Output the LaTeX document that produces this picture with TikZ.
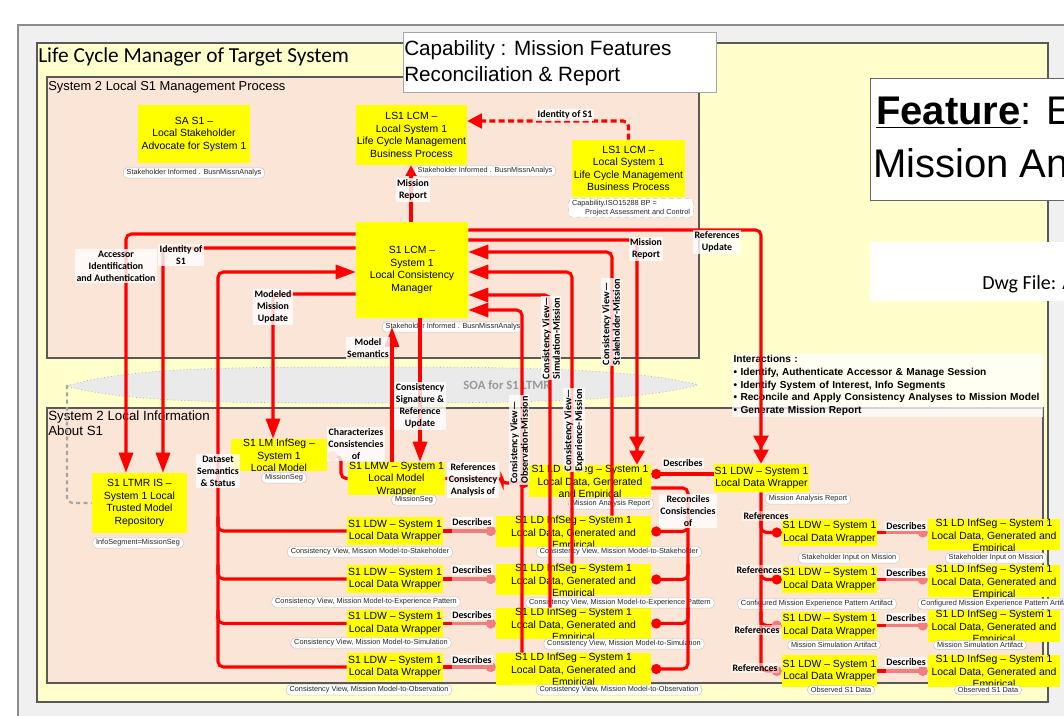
\documentclass[tikz,border=0pt]{standalone}
\usepackage{fontspec}
\setmainfont{Liberation Sans}
\newfontfamily\carlito{Carlito}
\usetikzlibrary{arrows.meta,fit}

\definecolor{panelyellow}{RGB}{255,255,204}
\definecolor{peach}{RGB}{251,229,214}
\definecolor{boxyellow}{RGB}{255,255,0}
\definecolor{lnred}{RGB}{255,0,0}
\definecolor{pinkred}{RGB}{242,125,125}
\definecolor{framegray}{RGB}{240,240,240}
\definecolor{soagray}{RGB}{234,234,234}

\tikzset{
  panel/.style={draw=black!65, line width=0.8pt},
  ybox/.style={fill=boxyellow, draw=none, inner sep=0pt},
  boxtext/.style={font=\fontsize{7.8}{9.4}\selectfont, align=center, inner sep=0pt, text=black},
  tag/.style={fill=white, draw=black!22, line width=0.4pt, rounded corners=3pt,
    inner xsep=2.5pt, inner ysep=1.3pt, font=\fontsize{5.5}{6.6}\selectfont, text=black!85},
  lbl/.style={font=\carlito\bfseries\fontsize{7.4}{9}\selectfont, align=center,
    fill=white, fill opacity=0.8, text opacity=1, inner sep=1pt},
  vlbl/.style={lbl, rotate=90, align=left, font=\carlito\bfseries\fontsize{7.6}{7.9}\selectfont},
  rline/.style={draw=lnred, line width=2.3pt},
  pline/.style={draw=pinkred, line width=2.3pt},
  tipT/.style={-{Triangle[length=15pt,width=10.5pt]}},
  tipS/.style={-{Triangle[length=8pt,width=8pt]}},
  tipTT/.style={-{Triangle[length=10.5pt,width=11pt]Triangle[length=10.5pt,width=11pt]}},
  tipR/.style={-{Circle[length=7.5pt]}},
  tipP/.style={-{Circle[length=7.5pt,color=pinkred]}},
  startR/.style={{Circle[length=7.5pt]}-},
  startP/.style={{Circle[length=7.5pt,color=pinkred]}-},
}

% yellow box with its text centred and clipped to the box
\newcommand\mkbox[4]{%
  \node[ybox, fit={#2 #3}] (#1) {};
  \begin{scope}
    \clip (#1.south west) rectangle (#1.north east);
    \node[boxtext] (#1t) at (#1.center) {#4};
  \end{scope}}
% yellow box whose text hangs from the top edge and runs out at the bottom
\newcommand\mktopbox[4]{%
  \node[ybox, fit={#2 #3}] (#1) {};
  \begin{scope}
    \clip (#1.south west) rectangle (#1.north east);
    \node[boxtext, anchor=north] (#1t) at (#1.north) {#4};
  \end{scope}}

\begin{document}
\begin{tikzpicture}[x=0.75pt,y=-0.75pt]
\useasboundingbox (0,0) rectangle (1064,716);
\fill[white] (0,0) rectangle (1064,716);

% frames and panels
\draw[fill=framegray, draw=black!45, line width=1.2pt] (18,25) rectangle (1090,740);
\draw[panel, fill=panelyellow] (37,43) rectangle (1048,702);
\draw[panel, fill=peach] (47,77) rectangle (699,358);
\draw[panel, fill=peach] (47,408) rectangle (1043,683);

% service bus
\draw[fill=soagray, draw=black!30, dotted, line width=0.6pt]
  (67,386) .. controls (130,366) and (250,367) .. (400,367)
  .. controls (560,367) and (650,372) .. (698,385)
  .. controls (650,398) and (560,403) .. (400,403)
  .. controls (250,403) and (130,404) .. (67,386) -- cycle;
\node[font=\carlito\bfseries\fontsize{9.5}{11}\selectfont, text=black!40] (soa) at (507,385) {SOA for S1 LTMR};

% titles
\node[anchor=base west, font=\carlito\fontsize{16}{18}\selectfont, inner sep=0pt] (title) at (38,63) {Life Cycle Manager of Target System};
\node[anchor=base west, font=\fontsize{9.7}{12}\selectfont, inner sep=0pt] (mgmt) at (48,91) {System 2 Local S1 Management Process};
\node[anchor=north west, align=left, font=\fontsize{10}{11}\selectfont, inner sep=0pt] (info) at (48,411) {System 2 Local Information\\About S1};

\node[fit={(403,32)(716,92)}, inner sep=0pt, fill=white, draw=black!35] (capbox) {};
\node[anchor=north west, align=left, font=\fontsize{15.5}{19.5}\selectfont, inner sep=0pt] (captext) at (404,40) {Capability : Mission Features\\Reconciliation \& Report};

\node[fit={(870,78)(1090,200)}, inner sep=0pt, fill=white, draw=black!60] (featbox) {};
\node[anchor=base west, font=\fontsize{30}{34}\selectfont, inner sep=0pt] (feat1) at (876,125) {\textbf{\underline{Feature}}: E};
\node[anchor=base west, font=\fontsize{30}{34}\selectfont, inner sep=0pt] (feat2) at (873,178) {Mission An};

\node[fit={(870,242)(1090,301)}, inner sep=0pt, fill=white] (dwgbox) {};
\node[anchor=base west, font=\carlito\fontsize{15}{17}\selectfont, inner sep=0pt] (dwg) at (982,290) {Dwg File: A};

\node[anchor=north west, align=left, fill=white, fill opacity=0.75, text opacity=1,
  inner xsep=1pt, inner ysep=1pt, text width=231pt, font=\bfseries\fontsize{7.6}{9.4}\selectfont] (inter) at (732,354)
  {Interactions :\\
   \textbullet{} Identify, Authenticate Accessor \& Manage Session\\
   \textbullet{} Identify System of Interest, Info Segments\\
   \textbullet{} Reconcile and Apply Consistency Analyses to Mission Model\\
   \textbullet{} Generate Mission Report};

% yellow boxes
\mkbox{SA}{(138,105)}{(250,163)}{SA S1 –\\Local Stakeholder\\Advocate for System 1}
\mkbox{LCMa}{(356,105)}{(467,165)}{LS1 LCM –\\Local System 1\\Life Cycle Management\\Business Process}
\mkbox{LCMb}{(572,140)}{(685,197)}{LS1 LCM –\\Local System 1\\Life Cycle Management\\Business Process}
\mkbox{LCM}{(356,222)}{(468,318)}{S1 LCM –\\System 1\\Local Consistency\\Manager}
\mkbox{LTMR}{(92,473)}{(187,533)}{S1 LTMR IS –\\System 1 Local\\Trusted Model\\Repository}
\mktopbox{LMI}{(231,439)}{(327,471)}{S1 LM InfSeg –\\System 1\\Local Model}
\mktopbox{LMW}{(348,462)}{(445,495)}{S1 LMW – System 1\\Local Model\\Wrapper}
\mktopbox{LDI0}{(529,465)}{(651,497)}{S1 LD InfSeg – System 1\\Local Data, Generated\\and Empirical}
\mkbox{LDW0}{(714,464)}{(809,492)}{S1 LDW – System 1\\Local Data Wrapper}

\foreach \i/\ya/\yb in {1/517/545, 2/565/593, 3/610/637, 4/653/681}
  {\mkbox{LDWa\i}{(347,\ya)}{(443,\yb)}{S1 LDW – System 1\\Local Data Wrapper}}
\foreach \i/\ya/\yb in {1/516/547, 2/564/595, 3/608/639, 4/653/685}
  {\mktopbox{LDIa\i}{(496,\ya)}{(651,\yb)}{S1 LD InfSeg – System 1\\Local Data, Generated and\\Empirical}}
\foreach \i/\ya/\yb in {1/519/546, 2/566/593, 3/612/639, 4/655/687}
  {\mkbox{LDWb\i}{(782,\ya)}{(877,\yb)}{S1 LDW – System 1\\Local Data Wrapper}}
\foreach \i/\ya/\yb in {1/519/550, 2/565/597, 3/610/642, 4/655/687}
  {\mktopbox{LDIb\i}{(928,\ya)}{(1060,\yb)}{S1 LD InfSeg – System 1\\Local Data, Generated and\\Empirical}}

% tags under the boxes
\node[tag] (tSA) at (194,173) {Stakeholder Informed . BusnMissnAnalys};
\node[tag] (tLCMa) at (485,171) {Stakeholder Informed . BusnMissnAnalys};
\node[tag, dashed, align=left] (tLCMb) at (631,208) {Capability.ISO15288 BP =\\\hspace*{1.8em}Project Assessment and Control};
\node[tag] (tLCM) at (453,327) {Stakeholder Informed . BusnMissnAnalys};
\node[tag] (tLTMR) at (138,543) {InfoSegment=MissionSeg};
\node[tag] (tLMI) at (284,478) {MissionSeg};
\node[tag] (tLMW) at (414,500) {MissionSeg};
\node[tag] (tLDI0) at (611,504) {Mission Analysis Report};
\node[tag] (tLDW0) at (808,499) {Mission Analysis Report};

\node[tag] (tLDWa1) at (370,552) {Consistency View, Mission Model-to-Stakeholder};
\node[tag] (tLDWa2) at (366,602) {Consistency View, Mission Model-to-Experience Pattern};
\node[tag] (tLDWa3) at (371,643) {Consistency View, Mission Model-to-Simulation};
\node[tag] (tLDWa4) at (369,690) {Consistency View, Mission Model-to-Observation};
\node[tag] (tLDIa1) at (619,552) {Consistency View, Mission Model-to-Stakeholder};
\node[tag] (tLDIa2) at (620,603) {Consistency View, Mission Model-to-Experience Pattern};
\node[tag] (tLDIa3) at (624,644) {Consistency View, Mission Model-to-Simulation};
\node[tag] (tLDIa4) at (619,690) {Consistency View, Mission Model-to-Observation};

\node[tag] (tLDWb1) at (849,558) {Stakeholder Input on Mission};
\node[tag] (tLDWb2) at (817,604) {Configured Mission Experience Pattern Artifact};
\node[tag] (tLDWb3) at (834,645) {Mission Simulation Artifact};
\node[tag] (tLDWb4) at (841,690) {Observed S1 Data};
\node[tag] (tLDIb1) at (996,558) {Stakeholder Input on Mission};
\node[tag] (tLDIb2) at (997,604) {Configured Mission Experience Pattern Artifact};
\node[tag] (tLDIb3) at (980,645) {Mission Simulation Artifact};
\node[tag] (tLDIb4) at (988,690) {Observed S1 Data};

% repository link to the service bus
\draw[draw=black!35, line width=1.6pt, dash pattern=on 3pt off 2.5pt, rounded corners=4pt] (soa.center -| 67,0) |- (LTMR.west);

% connectors of the consistency manager
\draw[rline, tipS] (411,0 |- LCM.north) -- (411,0 |- LCMa.south);
\draw[rline, dash pattern=on 4.5pt off 2.5pt, rounded corners=4pt, -{Triangle[length=11pt,width=11pt]}] (LCMb.north) |- (LCMa.east |- 0,121);

\draw[rline, rounded corners=4pt, tipT] (LCM.west |- 0,234) -| (126,0 |- LTMR.north);
\draw[rline, rounded corners=4pt, tipT] (LCM.west |- 0,248) -| (163,0 |- LTMR.north);
\draw[rline, rounded corners=4pt, tipT] (LDWa4.west) -| (218,272) -- (LCM.west |- 0,272);
\foreach \i in {1,2,3}
  \draw[rline, rounded corners=4pt] (LDWa\i.west) -| (218,0 |- LDWa\i.north);
\draw[rline, rounded corners=4pt, tipT] (LCM.west |- 0,294) -| (273,0 |- LMI.north);

\draw[rline, tipT] (392,0 |- LMW.north) -- (392,0 |- tLCM.center);
\draw[rline, tipT] (420,0 |- LCM.south) -- (420,0 |- LMW.north);

\draw[rline, rounded corners=4pt, tipTT] (LCM.east |- 0,240) -| (637,0 |- LDI0.north);
\draw[rline, rounded corners=4pt, tipTT] (LCM.east |- 0,230) -| (761,0 |- LDW0.north);

\draw[rline, rounded corners=4pt, tipT] (612,0 |- LDIa1.north) |- (LCM.east |- 0,252);
\draw[rline, rounded corners=4pt, tipT] (572,0 |- LDIa2.north) |- (LCM.east |- 0,272);
\draw[rline, rounded corners=4pt, tipT] (550,0 |- LDIa3.north) |- (LCM.east |- 0,295);
\draw[rline, rounded corners=4pt, tipT] (522,0 |- LDIa4.north) |- (LCM.east |- 0,310);

% model and data links
\draw[rline, rounded corners=3pt, tipR] (LMW.east) -- (502,0 |- LMW.east) |- (LDI0.west |- 0,483);
\draw[rline, rounded corners=4pt, startP] (LMI.east |- 0,456) -| (341,0 |- LMW.west) -- (LMW.west);

\foreach \i in {1,...,4}{
  \draw[pline, tipP] (LDWa\i.east) -- (LDIa\i.west |- LDWa\i.east);
  \draw[rline] (LDWa\i.east) -- ++(9,0);
}
\draw[rline, startR] (LDI0.east |- 0,474) -- (LDW0.west |- 0,474);

\draw[rline, rounded corners=4pt, tipR] (LDI0.east |- 0,488) -| (688,600) |- (LDIa4.east);
\foreach \i in {1,2,3}
  \draw[rline, rounded corners=4pt, tipR] (688,0 |- LDIa\i.north) |- (LDIa\i.east);

\draw[rline, rounded corners=4pt, tipP] (761,0 |- LDW0.south) |- (LDWb4.west);
\draw[rline, rounded corners=4pt, tipR] (761,0 |- LDWb1.north) |- (LDWb1.west);
\draw[rline, rounded corners=4pt, tipR] (761,0 |- LDWb2.north) |- (LDWb2.west);
\draw[rline, rounded corners=4pt, tipP] (761,0 |- LDWb3.north) |- (LDWb3.west);

\foreach \i in {1,...,4}{
  \draw[pline, tipP] (LDWb\i.east) -- (LDIb\i.west |- LDWb\i.east);
  \draw[rline] (LDWb\i.east) -- ++(9,0);
}

% connector labels
\node[lbl] (lMR1) at (413,190) {Mission\\Report};
\node[lbl] (lId1) at (565,115) {Identity of S1};
\node[lbl] (lAcc) at (116,266) {Accessor\\Identification\\and Authentication};
\node[lbl] (lId2) at (181,255) {Identity of\\S1};
\node[lbl] (lMMU) at (273,307) {Modeled\\Mission\\Update};
\node[lbl] (lMS) at (368,348) {Model\\Semantics};
\node[lbl] (lCS) at (420,406) {Consistency\\Signature \&\\Reference\\Update};
\node[lbl] (lMR2) at (646,249) {Mission\\Report};
\node[lbl] (lRU) at (717,242) {References\\Update};
\node[lbl] (lDS) at (218,471) {Dataset\\Semantics\\\& Status};
\node[lbl] (lCC) at (356,444) {Characterizes\\Consistencies\\of};
\node[lbl] (lRCA) at (473,480) {References\\Consistency\\Analysis of};
\node[lbl] (lDt) at (683,463) {Describes};
\node[lbl] (lRC) at (688,511) {Reconciles\\Consistencies\\of};

\foreach \i/\y in {1/522, 2/570, 3/615, 4/660}
  \node[lbl] (lDa\i) at (472,\y) {Describes};
\foreach \i/\x/\y in {1/766/516, 2/759/570, 3/757/630, 4/755/668}
  \node[lbl, fill opacity=0.5] (lRf\i) at (\x,\y) {References};
\foreach \i/\y in {1/526, 2/573, 3/618, 4/662}
  \node[lbl] (lDb\i) at (906,\y) {Describes};

\node[vlbl] (vSt) at (611,322) {Consistency View—\\Stakeholder-Mission};
\node[vlbl] (vSi) at (551,338) {Consistency View—\\Simulation-Mission};
\node[vlbl] (vEx) at (574,430) {Consistency View—\\Experience-Mission};
\node[vlbl] (vOb) at (519,440) {Consistency View—\\Observation-Mission};
\end{tikzpicture}
\end{document}
